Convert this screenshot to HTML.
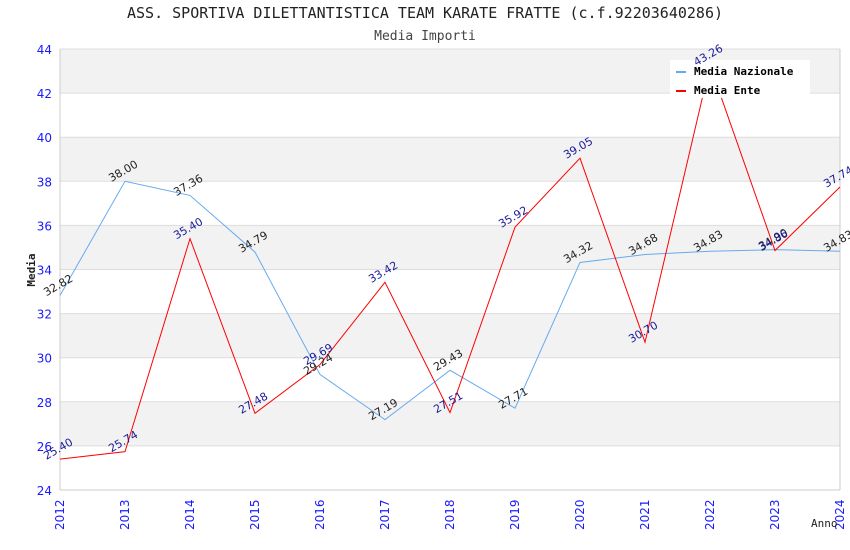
<!DOCTYPE html>
<html><head><meta charset="utf-8"><style>
body{margin:0;background:#fff}
svg{display:block;font-family:"DejaVu Sans Mono","Liberation Mono",monospace}
</style></head><body>
<svg id="c" width="850" height="550">
<text x="425" y="18" text-anchor="middle" font-size="15" fill="#222">ASS. SPORTIVA DILETTANTISTICA TEAM KARATE FRATTE (c.f.92203640286)</text>
<text x="425" y="40" text-anchor="middle" font-size="13" fill="#444">Media Importi</text>
<g id="bands"></g><g id="grid"></g><g id="axes"></g><g id="lines"></g>
<text x="35" y="270" transform="rotate(-90 35 270)" text-anchor="middle" font-size="11" font-weight="bold" fill="#222">Media</text>
<text x="811" y="527" font-size="11" fill="#222">Anno</text>
<g>
<rect x="670" y="60" width="140" height="38" fill="#fff"/>
<line x1="676" y1="72" x2="686" y2="72" stroke="#66aaee" stroke-width="2"/>
<text x="694" y="75" font-size="11" font-weight="bold" fill="#000">Media Nazionale</text>
<line x1="676" y1="91" x2="686" y2="91" stroke="red" stroke-width="2"/>
<text x="694" y="94" font-size="11" font-weight="bold" fill="#000">Media Ente</text>
</g>
<g id="labels"></g>
</svg>
<script>
const years=[2012,2013,2014,2015,2016,2017,2018,2019,2020,2021,2022,2023,2024];
const nazionale=[32.82,38.00,37.36,34.79,29.24,27.19,29.43,27.71,34.32,34.68,34.83,34.90,34.83];
const ente=[25.40,25.74,35.40,27.48,29.69,33.42,27.51,35.92,39.05,30.70,43.26,34.86,37.74];
const yTicks=[24,26,28,30,32,34,36,38,40,42,44];
const L=60,R=840,T=49,B=490,ymin=24,ymax=44;
const x=i=>L+(R-L)*i/(years.length-1);
const y=v=>B-(v-ymin)*(B-T)/(ymax-ymin);
const NS="http://www.w3.org/2000/svg";
function mk(p,t,a){const e=document.createElementNS(NS,t);for(const k in a)e.setAttribute(k,a[k]);document.getElementById(p).appendChild(e);return e;}
for(let i=0;i<yTicks.length-1;i++){
 if(i%2==1){const r=mk('bands','rect',{x:L,y:y(yTicks[i+1]),width:R-L,height:y(yTicks[i])-y(yTicks[i+1]),fill:'#f2f2f2'});
 
 }
}
yTicks.forEach(v=>{
 const g=mk('grid','line',{x1:L,x2:R,y1:y(v),y2:y(v),stroke:'#ddd'});
 
 
 const t=mk('axes','text',{x:L-8,y:y(v)+5,'text-anchor':'end','font-size':12,fill:'#1a1aff','font-family':'DejaVu Sans,sans-serif'});
 t.textContent=v;
 
 
});
mk('axes','line',{x1:L,x2:L,y1:T,y2:B,stroke:'#ccc'});
mk('axes','line',{x1:R,x2:R,y1:T,y2:B,stroke:'#ccc'});
mk('axes','line',{x1:L,x2:R,y1:B,y2:B,stroke:'#ccc'});
years.forEach((yr,i)=>{
 const t=mk('axes','text',{x:x(i)+4,y:530,transform:`rotate(-90 ${x(i)+4} 530)`,'font-size':12,fill:'#1a1aff','font-family':'DejaVu Sans,sans-serif'});
 t.textContent=yr;
 
 
});
function series(arr,color,name,lc){
 const p=mk('lines','polyline',{points:arr.map((v,i)=>x(i)+','+y(v)).join(' '),fill:'none',stroke:color,'stroke-width':1});
 
 
 arr.forEach((v,i)=>{
  const px=x(i),py=y(v)-7;
  const t=mk('labels','text',{x:px,y:py,'text-anchor':'middle',transform:`rotate(-30 ${px} ${py})`,'font-size':11,fill:lc,'font-family':'DejaVu Sans,sans-serif'});
  t.textContent=v.toFixed(2);
  
  
 });
}
series(nazionale,'#66aaee','line-media-nazionale','#222');
series(ente,'red','line-media-ente','#1a1a99');
</script>
</body></html>
